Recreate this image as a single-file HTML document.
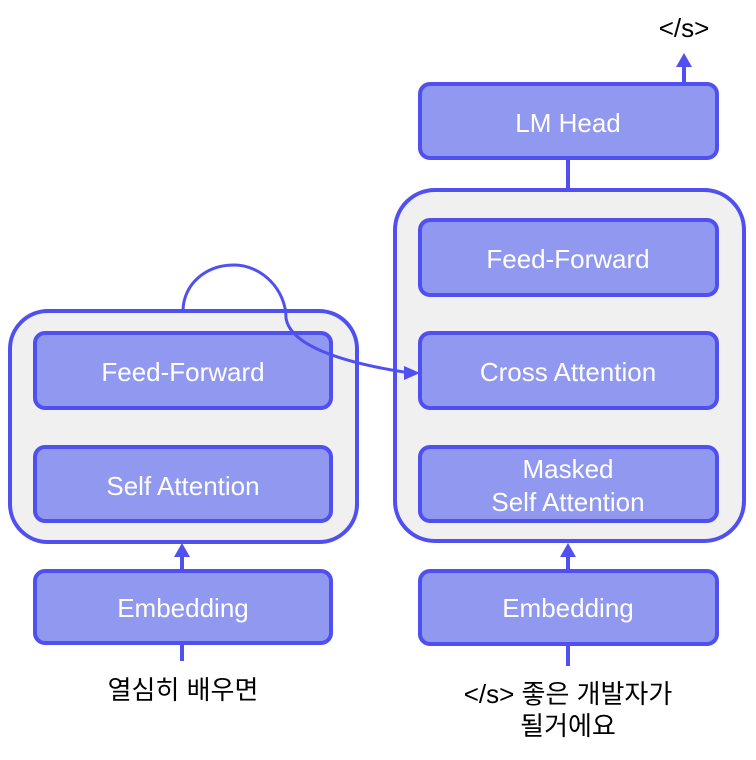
<!DOCTYPE html>
<html><head><meta charset="utf-8"><style>
html,body{margin:0;padding:0;background:#fff;}
svg{display:block;}
text{font-family:"Liberation Sans","Noto Sans CJK KR",sans-serif;}
.w{fill:#fff;font-size:26px;text-anchor:middle;}
.k{fill:#000;font-size:26px;text-anchor:middle;}
.b{fill:#9098f0;stroke:#5050f0;stroke-width:4;}
.o{fill:#f0f0f0;stroke:#5050f0;stroke-width:4;}
.l{stroke:#5050f0;stroke-width:4;fill:none;}
</style></head><body>
<svg width="756" height="760" viewBox="0 0 756 760" xmlns="http://www.w3.org/2000/svg">
<defs><marker id="a" markerWidth="10" markerHeight="10" refX="6" refY="5" orient="auto" markerUnits="userSpaceOnUse"><path d="M0,0 L12,5 L0,10 z" fill="#5050f0"/></marker></defs>
<!-- left encoder -->
<rect class="o" x="10" y="311" width="347" height="231" rx="38"/>
<rect class="b" x="35" y="333" width="296" height="75" rx="10"/>
<rect class="b" x="35" y="447" width="296" height="74" rx="10"/>
<rect class="b" x="35" y="571" width="296" height="72" rx="10"/>
<text class="w" x="183" y="381">Feed-Forward</text>
<text class="w" x="183" y="495">Self Attention</text>
<text class="w" x="183" y="617">Embedding</text>
<line class="l" x1="182" y1="571" x2="182" y2="556"/>
<path d="M174,557 L182,543 L190,557 z" fill="#5050f0"/>
<line class="l" x1="182" y1="643" x2="182" y2="661"/>
<text class="k" x="183" y="699">열심히 배우면</text>
<!-- right decoder -->
<rect class="o" x="395" y="190" width="349" height="351" rx="40"/>
<rect class="b" x="420" y="220" width="297" height="75" rx="10"/>
<rect class="b" x="420" y="333" width="297" height="75" rx="10"/>
<rect class="b" x="420" y="447" width="297" height="74" rx="10"/>
<rect class="b" x="420" y="571" width="297" height="73" rx="10"/>
<rect class="b" x="420" y="84" width="297" height="74" rx="10"/>
<text class="w" x="568" y="268">Feed-Forward</text>
<text class="w" x="568" y="381">Cross Attention</text>
<text class="w" x="568" y="478">Masked</text>
<text class="w" x="568" y="511">Self Attention</text>
<text class="w" x="568" y="617">Embedding</text>
<text class="w" x="568" y="132">LM Head</text>
<line class="l" x1="568" y1="158" x2="568" y2="190"/>
<line class="l" x1="568" y1="571" x2="568" y2="556"/>
<path d="M560,557 L568,543 L576,557 z" fill="#5050f0"/>
<line class="l" x1="568" y1="644" x2="568" y2="666"/>
<line class="l" x1="684" y1="84" x2="684" y2="66"/>
<path d="M676,67 L684,53 L692,67 z" fill="#5050f0"/>
<text class="k" x="684" y="37">&lt;/s&gt;</text>
<text class="k" x="568" y="703">&lt;/s&gt; 좋은 개발자가</text>
<text class="k" x="568" y="735">될거에요</text>
<!-- cross connection -->
<path d="M183,311 C183,285 205,265 234,265 C262,265 286,290 286,318 C290,345 340,362 404,372" stroke="#5050f0" stroke-width="3" fill="none"/>
<path d="M404,366 L420,373 L404,380 z" fill="#5050f0"/>
</svg>
</body></html>
